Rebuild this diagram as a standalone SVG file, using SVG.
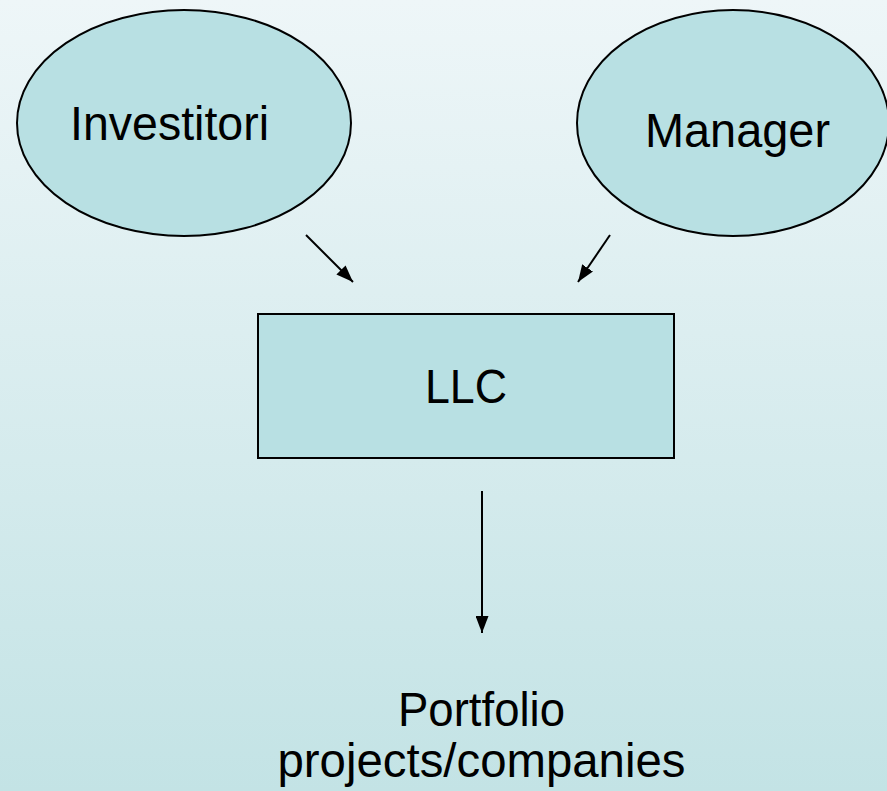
<svg xmlns="http://www.w3.org/2000/svg" width="887" height="791" viewBox="0 0 887 791">
<defs>
<linearGradient id="bg" x1="0" y1="0" x2="0" y2="1">
<stop offset="0" stop-color="#eef6f8"/>
<stop offset="1" stop-color="#c3e3e5"/>
</linearGradient>
<marker id="ah" markerWidth="17" markerHeight="13" refX="17" refY="6.5" orient="auto" markerUnits="userSpaceOnUse" viewBox="0 0 17 13">
<path d="M0,0 L17,6.5 L0,13 z" fill="#000"/>
</marker>
<style>
.shape{fill:#b8e0e3;stroke:#000;stroke-width:2}
.lbl{font-family:"Liberation Sans",Arial,sans-serif;font-size:48px;fill:#000;text-anchor:middle}
.conn line{stroke:#000;stroke-width:2;marker-end:url(#ah)}
</style>
</defs>
<rect width="887" height="791" fill="url(#bg)"/>
<g id="investitori">
<ellipse class="shape" cx="184" cy="123" rx="167" ry="113"/>
<text class="lbl" x="169.5" y="140" textLength="199" lengthAdjust="spacingAndGlyphs">Investitori</text>
</g>
<g id="manager">
<ellipse class="shape" cx="733" cy="123" rx="156" ry="113"/>
<text class="lbl" x="737.5" y="147" textLength="185" lengthAdjust="spacingAndGlyphs">Manager</text>
</g>
<g id="llc">
<rect class="shape" x="258" y="314" width="416" height="144"/>
<text class="lbl" x="466" y="403" textLength="82" lengthAdjust="spacingAndGlyphs">LLC</text>
</g>
<g id="portfolio">
<text class="lbl" x="481.5" y="726" textLength="167" lengthAdjust="spacingAndGlyphs">Portfolio</text>
<text class="lbl" x="481.5" y="777" textLength="408" lengthAdjust="spacingAndGlyphs">projects/companies</text>
</g>
<g class="conn" id="connectors">
<line x1="306" y1="235" x2="353" y2="282"/>
<line x1="610" y1="235" x2="578" y2="282"/>
<line x1="482" y1="491" x2="482" y2="633"/>
</g>
</svg>
